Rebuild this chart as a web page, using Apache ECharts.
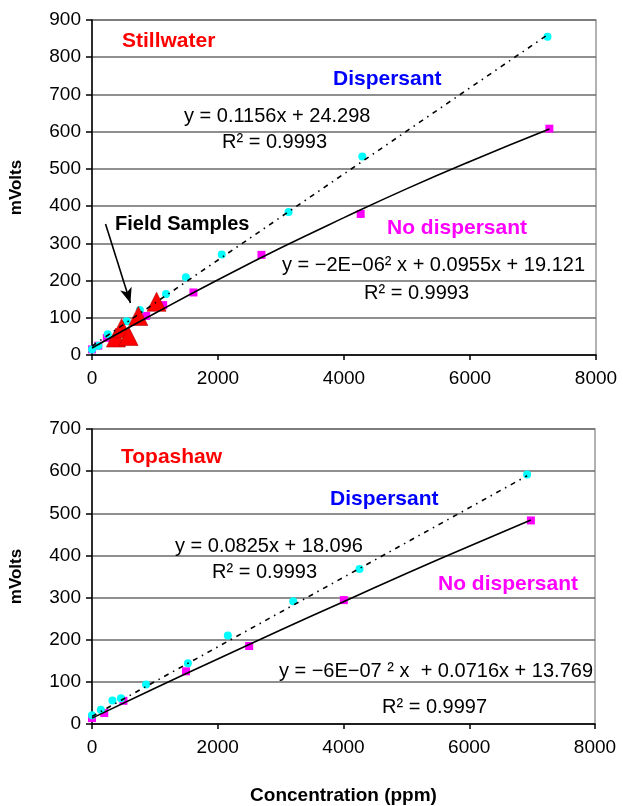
<!DOCTYPE html>
<html>
<head>
<meta charset="utf-8">
<script src="https://cdn.jsdelivr.net/npm/echarts@6/dist/echarts.min.js"></script>
<style>
html,body{margin:0;background:#fff}
#main{width:623px;height:806px}
</style>
</head>
<body>
<div id="main"></div>
<script>
// Stillwater (top chart)
var stillDisp = [[0,15],[100,25],[250,56],[550,91],[760,121],[1175,164],[1490,209],[2060,270],[3120,384],[4290,533],[7230,855]];
var stillNoDisp = [[0,15],[100,25],[235,46],[860,105],[1130,134],[1610,168],[2690,269],[4265,379],[7260,608]];
var fieldSamples = [[380,47],[470,72],[580,51],[735,105],[1025,143]];
var stillDispFit = [[0,24],[7230,860]];
var stillNoDispFit = [[0,19],[1000,112],[2000,202],[3000,288],[4000,369],[5000,447],[6000,520],[7260,607]];

// Topashaw (bottom chart)
var topaDisp = [[0,21],[140,34],[325,56],[460,61],[860,94],[1525,144],[2160,210],[3200,291],[4255,368],[6920,592]];
var topaNoDisp = [[0,14],[195,26],[500,55],[1495,125],[2500,185],[4005,294],[6980,483]];
var topaDispFit = [[0,18],[6920,589]];
var topaNoDispFit = [[0,14],[1000,85],[2000,154],[3000,223],[4000,290],[5000,357],[6000,422],[6980,484]];

var font = '"Liberation Sans", Arial, sans-serif';
var chart = echarts.init(document.getElementById('main'));

function plain(v){ return String(v); }

function yAx(idx, max){
  return {
    gridIndex: idx, type: 'value', min: 0, max: max, interval: 100,
    name: 'mVolts', nameLocation: 'middle', nameGap: 67,
    nameTextStyle: {fontFamily: font, fontSize: 17, fontWeight: 'bold', color: '#000'},
    axisLine: {show: true, lineStyle: {color: '#000', width: 1.5}},
    axisTick: {show: true, length: 6, lineStyle: {color: '#000', width: 1.5}},
    axisLabel: {fontFamily: font, fontSize: 19, color: '#000', margin: 11, formatter: plain},
    splitLine: {show: true, lineStyle: {color: '#6a6a6a', width: 1.5}}
  };
}
function xAx(idx, name){
  return {
    gridIndex: idx, type: 'value', min: 0, max: 8000, interval: 2000,
    name: name, nameLocation: 'middle', nameGap: 62,
    nameTextStyle: {fontFamily: font, fontSize: 19, fontWeight: 'bold', color: '#000'},
    axisLine: {show: true, onZero: false, lineStyle: {color: '#000', width: 1.5}},
    axisTick: {show: true, length: 5, lineStyle: {color: '#000', width: 1.5}},
    axisLabel: {fontFamily: font, fontSize: 19, color: '#000', margin: 14, formatter: plain},
    splitLine: {show: false}
  };
}
function dots(idx, data, symbol, color, size){
  return {type: 'scatter', xAxisIndex: idx, yAxisIndex: idx, data: data,
    symbol: symbol, symbolSize: size, itemStyle: {color: color, opacity: 1}, z: 3};
}
function fit(idx, data, dashed){
  return {type: 'line', xAxisIndex: idx, yAxisIndex: idx, data: data,
    smooth: !dashed, showSymbol: false, symbol: 'none', z: 4,
    lineStyle: {color: '#000', width: 1.6, type: dashed ? [5,5,1.5,5] : 'solid'}};
}
function txt(s, x, y, color, bold, size, align){
  return {type: 'text', x: x, y: y, z: 10, style: {
    text: s, fill: color, font: (bold ? 'bold ' : '') + size + 'px ' + font,
    textAlign: align || 'left', textVerticalAlign: 'middle',
    align: align || 'left', verticalAlign: 'middle'}};
}

var field = dots(0, fieldSamples, 'triangle', '#ff0000', 19);
field.itemStyle = {color: '#ff0000', opacity: 1, borderColor: '#b00000', borderWidth: 0.6};
field.markLine = {
  silent: true, symbol: ['none', 'arrow'], symbolSize: [9, 15],
  label: {show: false},
  lineStyle: {color: '#000', width: 1.6, type: 'solid'},
  data: [[{coord: [215, 352]}, {coord: [610, 140]}]]
};

chart.setOption({
  animation: false,
  grid: [
    {left: 92, top: 20, width: 504, height: 335, show: true, borderColor: '#999', borderWidth: 1.5},
    {left: 92, top: 429, width: 503, height: 304, show: true, borderColor: '#999', borderWidth: 1.5}
  ],
  xAxis: [xAx(0, ''), xAx(1, 'Concentration (ppm)')],
  yAxis: [yAx(0, 900), yAx(1, 700)],
  series: [
    dots(0, stillNoDisp, 'rect', '#ff00ff', 8),
    dots(0, stillDisp, 'circle', '#00ffff', 8),
    field,
    fit(0, stillNoDispFit, false),
    fit(0, stillDispFit, true),
    dots(1, topaNoDisp, 'rect', '#ff00ff', 8),
    dots(1, topaDisp, 'circle', '#00ffff', 8),
    fit(1, topaNoDispFit, false),
    fit(1, topaDispFit, true)
  ],
  graphic: [
    txt('Stillwater', 122, 41, '#ff0000', true, 21),
    txt('Dispersant', 333, 79, '#0000ff', true, 21),
    txt('y = 0.1156x + 24.298', 184, 116, '#000', false, 20),
    txt('R² = 0.9993', 222, 142, '#000', false, 20),
    txt('Field Samples', 115, 224, '#000', true, 20),
    txt('No dispersant', 387, 228, '#ff00ff', true, 21),
    txt('y = −2E−06² x + 0.0955x + 19.121', 585, 265, '#000', false, 20, 'right'),
    txt('R² = 0.9993', 364, 293, '#000', false, 20),
    txt('Topashaw', 121, 457, '#ff0000', true, 21),
    txt('Dispersant', 330, 499, '#0000ff', true, 21),
    txt('y = 0.0825x + 18.096', 175, 546, '#000', false, 20),
    txt('R² = 0.9993', 212, 572, '#000', false, 20),
    txt('No dispersant', 438, 584, '#ff00ff', true, 21),
    txt('y = −6E−07 ² x  + 0.0716x + 13.769', 593, 671, '#000', false, 20, 'right'),
    txt('R² = 0.9997', 382, 707, '#000', false, 20)
  ]
});
</script>
</body>
</html>
